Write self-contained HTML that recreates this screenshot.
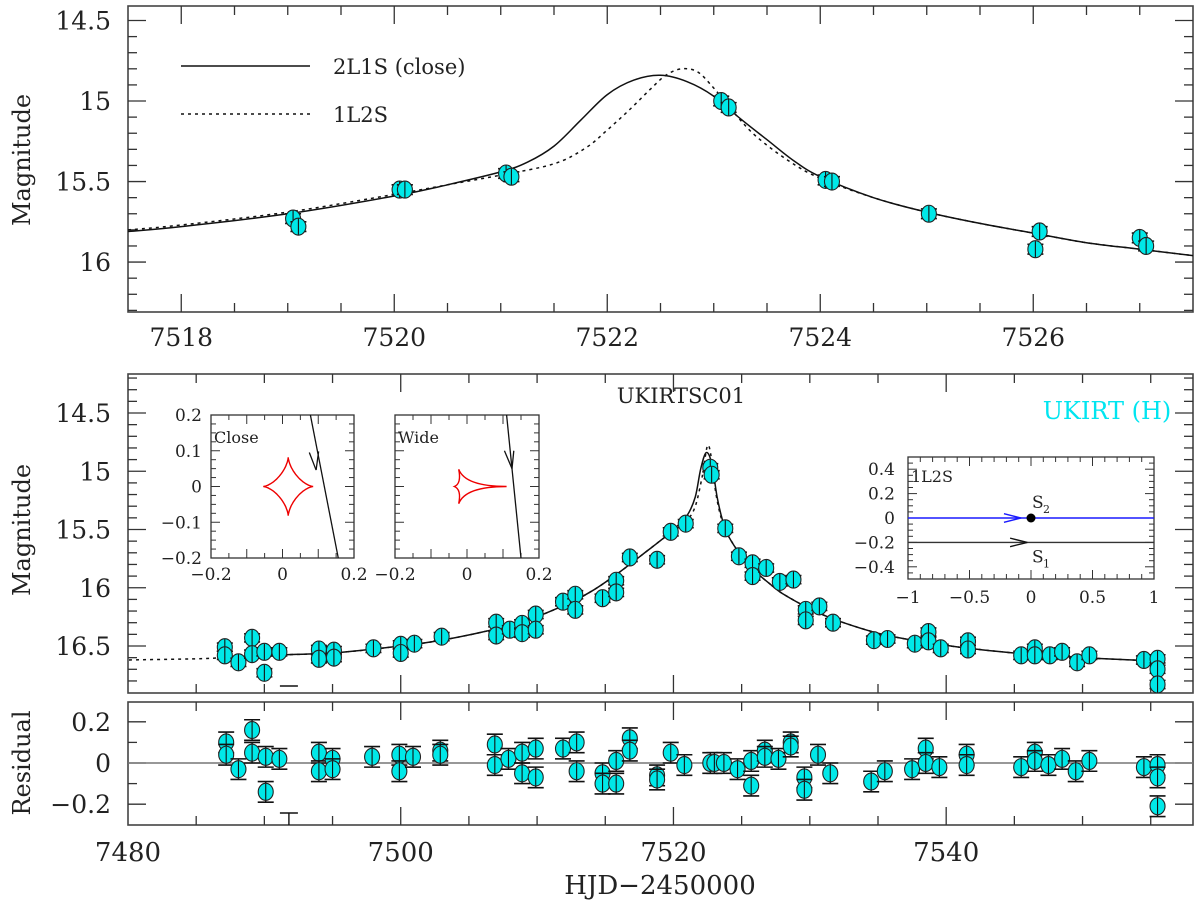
<!DOCTYPE html>
<html><head><meta charset="utf-8"><title>UKIRTSC01 light curve</title>
<style>
html,body{margin:0;padding:0;background:#fff;}
svg{display:block;font-family:"DejaVu Serif","Liberation Serif",serif;}
</style></head>
<body>
<svg id="fig" width="1200" height="903" viewBox="0 0 1200 903" xmlns="http://www.w3.org/2000/svg"></svg>
<script>
// ---------- DATA ----------
const topT = [7519.05,7519.10,7520.05,7520.10,7521.05,7521.10,7523.07,7523.14,7524.05,7524.11,7525.02,7526.02,7526.06,7527.00,7527.06];
const topM = [15.73,15.78,15.55,15.55,15.45,15.47,15.00,15.04,15.49,15.50,15.70,15.92,15.81,15.85,15.90];
const topErr = 0.03;
const solidTopT = [7517.5,7518,7519,7520,7520.5,7521,7521.25,7521.5,7521.75,7522.0,7522.25,7522.5,7522.75,7523.0,7523.25,7523.5,7523.75,7524,7524.5,7525,7525.5,7526,7526.5,7527,7527.5];
const solidTopM = [15.81,15.78,15.70,15.59,15.52,15.44,15.38,15.28,15.12,14.96,14.87,14.84,14.88,14.97,15.11,15.24,15.37,15.47,15.60,15.69,15.76,15.82,15.88,15.92,15.96];
const dotTopT = [7517.5,7518,7519,7520,7520.5,7521,7521.5,7521.8,7522.0,7522.2,7522.4,7522.55,7522.7,7522.85,7523.0,7523.2,7523.4,7523.7,7524,7524.5,7525,7525.5,7526,7526.5,7527,7527.5];
const dotTopM = [15.80,15.77,15.69,15.58,15.52,15.46,15.39,15.29,15.18,15.06,14.93,14.84,14.80,14.82,14.92,15.08,15.22,15.37,15.48,15.60,15.69,15.76,15.82,15.88,15.92,15.96];

const midT = [7487.1,7487.1,7488.1,7489.1,7489.1,7490.0,7490.0,7491.1,7494.0,7494.0,7495.1,7495.1,7498.0,7500.0,7500.0,7501.0,7503.0,7507.0,7507.0,7508.0,7508.9,7508.9,7509.9,7509.9,7511.9,7512.8,7512.8,7514.8,7515.8,7515.8,7516.8,7518.8,7519.8,7520.9,7522.7,7522.8,7523.8,7524.8,7525.8,7525.8,7526.8,7527.8,7528.8,7529.7,7529.7,7530.7,7531.7,7534.7,7535.7,7537.7,7538.7,7538.7,7539.6,7541.6,7541.6,7545.5,7546.5,7546.5,7547.6,7548.5,7549.6,7550.5,7554.5,7555.5,7555.5,7555.5];
const midM = [16.51,16.58,16.64,16.43,16.57,16.55,16.73,16.55,16.53,16.61,16.54,16.60,16.52,16.49,16.56,16.48,16.42,16.30,16.41,16.36,16.31,16.39,16.23,16.36,16.12,16.06,16.19,16.09,15.94,16.04,15.74,15.76,15.52,15.45,14.97,15.03,15.49,15.73,15.79,15.90,15.83,15.95,15.93,16.19,16.28,16.16,16.30,16.45,16.44,16.48,16.38,16.46,16.52,16.46,16.53,16.58,16.52,16.58,16.58,16.55,16.64,16.58,16.62,16.61,16.70,16.83];
const midErr = 0.035;
const solidMidT = [7487,7490,7495,7500,7503,7506,7509,7512,7514,7516,7518,7519,7520,7521,7521.6,7522.0,7522.4,7522.8,7523.2,7523.6,7524,7525,7526,7527,7528,7530,7532,7535,7538,7541,7545,7550,7555.6];
const solidMidM = [16.60,16.58,16.56,16.50,16.45,16.38,16.29,16.15,16.03,15.87,15.69,15.60,15.50,15.38,15.22,14.98,14.84,14.93,15.22,15.42,15.55,15.73,15.86,15.96,16.05,16.18,16.28,16.39,16.46,16.51,16.56,16.60,16.63];
const dotMidT = [7477,7480,7485,7487,7490,7495,7500,7503,7506,7509,7512,7514,7516,7518,7519,7520,7521,7521.6,7522.1,7522.5,7522.8,7523.1,7523.5,7524,7525,7526,7527,7528,7530,7532,7535,7538,7541,7545,7550,7555.6];
const dotMidM = [16.63,16.62,16.61,16.60,16.58,16.56,16.50,16.45,16.38,16.29,16.15,16.03,15.87,15.69,15.60,15.51,15.42,15.30,15.05,14.78,14.90,15.18,15.40,15.55,15.73,15.86,15.96,16.05,16.18,16.28,16.39,16.46,16.51,16.56,16.60,16.63];

const resT = [7487.2,7487.2,7488.1,7489.1,7489.1,7490.1,7490.1,7491.1,7494.0,7494.0,7495.0,7495.0,7497.9,7499.9,7499.9,7500.9,7502.9,7502.9,7506.9,7506.9,7507.9,7508.9,7508.9,7509.9,7509.9,7511.9,7512.9,7512.9,7514.8,7514.8,7515.8,7515.8,7516.8,7516.8,7518.8,7518.8,7519.8,7520.8,7522.7,7523.0,7523.7,7524.7,7525.7,7525.7,7526.7,7526.7,7527.7,7528.6,7528.6,7529.6,7529.6,7530.6,7531.5,7534.5,7535.5,7537.5,7538.5,7538.5,7539.5,7541.5,7541.5,7545.5,7546.5,7546.5,7547.5,7548.5,7549.5,7550.5,7554.5,7555.5,7555.5,7555.5];
const resR = [0.10,0.04,-0.03,0.16,0.05,0.03,-0.14,0.02,0.05,-0.04,0.02,-0.03,0.03,0.04,-0.04,0.03,0.06,0.04,0.09,-0.01,0.02,0.05,-0.05,0.07,-0.07,0.07,0.10,-0.04,-0.05,-0.10,0.01,-0.10,0.12,0.06,-0.06,-0.08,0.05,-0.01,0.00,0.00,0.00,-0.03,0.01,-0.11,0.06,0.03,0.02,0.10,0.08,-0.07,-0.13,0.04,-0.05,-0.09,-0.04,-0.03,0.07,0.00,-0.02,0.04,-0.01,-0.02,0.05,0.01,-0.01,0.02,-0.04,0.01,-0.02,-0.01,-0.07,-0.21];
const resErr = 0.05;

const topXTicks = [7518,7520,7522,7524,7526];
const topYTicks = [14.5,15,15.5,16];
const midYTicks = [14.5,15,15.5,16,16.5];
const resYTicks = [0.2,0,-0.2];
const botXTicks = [7480,7500,7520,7540];

// ---------- SVG helpers ----------
const svg = document.getElementById('fig');
const NS = 'http://www.w3.org/2000/svg';
function mk(tag, name, attrs, parent){
  const e = document.createElementNS(NS, tag);
  for (const k in attrs) e.setAttribute(k, attrs[k]);
  
  
  (parent || svg).appendChild(e);
  return e;
}
function txt(s, x, y, size, anchor, name, fill, parent){
  const t = mk('text', name, {x:x, y:y, 'font-size':size, 'text-anchor':anchor||'middle', fill:fill||'#222'}, parent);
  t.textContent = s;
  return t;
}
function ln(x1,y1,x2,y2,name,stroke,w,dash,parent){
  const a = {x1:x1,y1:y1,x2:x2,y2:y2,stroke:stroke||'#333','stroke-width':w||1.3};
  if (dash) a['stroke-dasharray'] = dash;
  return mk('line', name, a, parent);
}
function lin(d0,d1,p0,p1){ return v => p0 + (v-d0)*(p1-p0)/(d1-d0); }
function fmt(v){ return (v<0?'\u2212':'') + Math.abs(v).toString(); }

// ---------- panel geometry ----------
const L = 128, R = 1193;
const P = {
  top: {y0:6,  y1:312, x: lin(7517.5,7527.5,L,R), y: lin(14.41,16.31,6,312)},
  mid: {y0:374,y1:693, x: lin(7480,7558.1,L,R), y: lin(14.5,16.5,413,646)},
  res: {y0:702,y1:825, x: lin(7480,7558.1,L,R), y: lin(0.2,-0.2,721.8,804.2)}
};

function clip(id, y0, y1){
  const defs = svg.querySelector('defs') || mk('defs','defs',{});
  const c = mk('clipPath', id, {id:id}, defs);
  mk('rect', id+'-rect', {x:L, y:y0, width:R-L, height:y1-y0}, c);
}
clip('clipTop', P.top.y0, P.top.y1);
clip('clipMid', P.mid.y0, P.mid.y1);
clip('clipRes', P.res.y0, P.res.y1);

function frame(p, name){
  mk('rect', name, {x:L, y:p.y0, width:R-L, height:p.y1-p.y0, fill:'none', stroke:'#444', 'stroke-width':1.6});
}
function xTicks(p, a, b, minor, major, name){
  for (let v=a; v<=b+1e-9; v+=minor){
    const X = p.x(v); if (X<L+1||X>R-1) continue;
    const isMaj = Math.abs(v/major - Math.round(v/major))<1e-6;
    const len = isMaj?18:9;
    ln(X,p.y1,X,p.y1-len,name+'-bottom-tick','#333',1.3);
    ln(X,p.y0,X,p.y0+len,name+'-top-tick','#333',1.3);
  }
}
function yTicks(p, a, b, minor, major, name){
  for (let v=a; v<=b+1e-9; v+=minor){
    const Y = p.y(v); if (Y<p.y0+1||Y>p.y1-1) continue;
    const isMaj = Math.abs(v/major - Math.round(v/major))<1e-6;
    const len = isMaj?18:9;
    ln(L,Y,L+len,Y,name+'-left-tick','#333',1.3);
    ln(R,Y,R-len,Y,name+'-right-tick','#333',1.3);
  }
}
function curve(p, T, M, name, dash, clipId){
  const pts = T.map((t,i)=>[p.x(t), p.y(M[i])]);
  let d = 'M'+pts[0][0].toFixed(1)+','+pts[0][1].toFixed(1);
  for (let i=0;i<pts.length-1;i++){
    const p0=pts[Math.max(0,i-1)], p1=pts[i], p2=pts[i+1], p3=pts[Math.min(pts.length-1,i+2)];
    const c1=[p1[0]+(p2[0]-p0[0])/6, p1[1]+(p2[1]-p0[1])/6];
    const c2=[p2[0]-(p3[0]-p1[0])/6, p2[1]-(p3[1]-p1[1])/6];
    d += 'C'+c1[0].toFixed(1)+','+c1[1].toFixed(1)+' '+c2[0].toFixed(1)+','+c2[1].toFixed(1)+' '+p2[0].toFixed(1)+','+p2[1].toFixed(1);
  }
  const a = {d:d, fill:'none', stroke:'#111', 'stroke-width':1.5, 'clip-path':'url(#'+clipId+')', 'stroke-linejoin':'round'};
  if (dash) a['stroke-dasharray'] = dash;
  mk('path', name, a);
}
function points(p, T, V, err, name, clipId){
  const g = mk('g', name+'-group', {'clip-path':'url(#'+clipId+')'});
  T.forEach((t,i)=>{
    const X = p.x(t), Y = p.y(V[i]);
    const ya = p.y(V[i]-err), yb = p.y(V[i]+err);
    ln(X,ya,X,yb,name+'-errorbar','#111',1.4,null,g);
    ln(X-8,ya,X+8,ya,name+'-errorcap','#111',1.6,null,g);
    ln(X-8,yb,X+8,yb,name+'-errorcap','#111',1.6,null,g);
    mk('ellipse', name, {cx:X, cy:Y, rx:7.5, ry:8.5, fill:'#00e8e8', stroke:'#222', 'stroke-width':1.1}, g);
    ln(X,Y-8,X,Y+8,name+'-inner-bar','#111',1.1,null,g);
  });
}

// ---------- TOP PANEL ----------
frame(P.top,'top-panel-frame');
xTicks(P.top,7517.5,7527.5,0.5,2,'top-x');
yTicks(P.top,14.5,16.3,0.1,0.5,'top-y');
topXTicks.forEach(v=>txt(String(v), P.top.x(v), 346, 25, 'middle', 'top-x-tick-label'));
topYTicks.forEach(v=>txt(String(v), 111, P.top.y(v)+9, 25, 'end', 'top-y-tick-label'));
curve(P.top, dotTopT, dotTopM, 'top-1l2s-model-curve', '3,4', 'clipTop');
curve(P.top, solidTopT, solidTopM, 'top-2l1s-model-curve', null, 'clipTop');
points(P.top, topT, topM, topErr, 'top-data-point', 'clipTop');
ln(181,66,310,66,'legend-solid-line','#111',1.5);
txt('2L1S (close)', 333, 74, 21, 'start', 'legend-2l1s-label');
ln(181,114,310,114,'legend-dotted-line','#111',1.5,'3,4');
txt('1L2S', 333, 122, 21, 'start', 'legend-1l2s-label');
const yl1 = txt('Magnitude', 0, 0, 24, 'middle', 'top-y-axis-title');
yl1.setAttribute('transform','translate(30,160) rotate(-90)');

// ---------- MIDDLE PANEL ----------
frame(P.mid,'middle-panel-frame');
xTicks(P.mid,7480,7558,5,20,'mid-x');
yTicks(P.mid,14.2,16.9,0.1,0.5,'mid-y');
midYTicks.forEach(v=>txt(String(v), 111, P.mid.y(v)+9, 25, 'end', 'mid-y-tick-label'));
curve(P.mid, dotMidT, dotMidM, 'mid-1l2s-model-curve', '3,4', 'clipMid');
curve(P.mid, solidMidT, solidMidM, 'mid-2l1s-model-curve', null, 'clipMid');
points(P.mid, midT, midM, midErr, 'mid-data-point', 'clipMid');
ln(P.mid.x(7491.8)-9,686,P.mid.x(7491.8)+9,686,'mid-offscale-errorcap','#111',1.6);
txt('UKIRTSC01', 681, 403, 21, 'middle', 'event-name-label');
txt('UKIRT (H)', 1107, 419, 24, 'middle', 'ukirt-h-band-label', '#00e5f0');
const yl2 = txt('Magnitude', 0, 0, 24, 'middle', 'mid-y-axis-title');
yl2.setAttribute('transform','translate(30,530) rotate(-90)');

// ---------- RESIDUAL PANEL ----------
frame(P.res,'residual-panel-frame');
xTicks(P.res,7480,7558,5,20,'res-x');
yTicks(P.res,-0.3,0.3,0.1,0.2,'res-y');
ln(L,P.res.y(0),R,P.res.y(0),'residual-zero-line','#777',1.4);
resYTicks.forEach(v=>txt(fmt(v), 111, P.res.y(v)+9, 25, 'end', 'res-y-tick-label'));
points(P.res, resT, resR, resErr, 'residual-point', 'clipRes');
ln(P.res.x(7491.8)-9,813,P.res.x(7491.8)+9,813,'res-offscale-errorcap','#111',1.6);
ln(P.res.x(7491.8),813,P.res.x(7491.8),825,'res-offscale-errorbar','#111',1.4);
botXTicks.forEach(v=>txt(String(v), P.res.x(v), 861, 26, 'middle', 'bottom-x-tick-label'));
txt('HJD\u22122450000', 660, 894, 26, 'middle', 'x-axis-title');
const yl3 = txt('Residual', 0, 0, 24, 'middle', 'res-y-axis-title');
yl3.setAttribute('transform','translate(30,763) rotate(-90)');

// ---------- INSETS (caustics) ----------
function inset(x0,x1,y0,y1,xa,xb,ya,yb,name,xMinor,xMajor,yMinor,yMajor){
  const I = {x:lin(xa,xb,x0,x1), y:lin(ya,yb,y1,y0), x0:x0,x1:x1,y0:y0,y1:y1};
  mk('rect', name+'-frame', {x:x0,y:y0,width:x1-x0,height:y1-y0,fill:'#fff',stroke:'#333','stroke-width':1.3});
  for (let v=xa; v<=xb+1e-9; v+=xMinor){
    const X=I.x(v); if (X<=x0+1||X>=x1-1) continue;
    const maj=Math.abs(v/xMajor-Math.round(v/xMajor))<1e-6, len=maj?9:5;
    ln(X,y1,X,y1-len,name+'-x-tick','#333',1); ln(X,y0,X,y0+len,name+'-x-tick','#333',1);
  }
  for (let v=ya; v<=yb+1e-9; v+=yMinor){
    const Y=I.y(v); if (Y<=y0+1||Y>=y1-1) continue;
    const maj=Math.abs(v/yMajor-Math.round(v/yMajor))<1e-6, len=maj?9:5;
    ln(x0,Y,x0+len,Y,name+'-y-tick','#333',1); ln(x1,Y,x1-len,Y,name+'-y-tick','#333',1);
  }
  return I;
}
// Close
const C = inset(211,354,415,558,-0.2,0.2,-0.2,0.2,'close-inset',0.05,0.1,0.025,0.1);
[0.2,0.1,0,-0.1,-0.2].forEach(v=>txt(fmt(v), 202, C.y(v)+6, 17, 'end', 'close-inset-y-label'));
[-0.2,0,0.2].forEach(v=>txt(fmt(v), C.x(v), 580, 17, 'middle', 'close-inset-x-label'));
txt('Close', 214, 443, 16, 'start', 'close-inset-title');
(function(){
  let d='';
  for (let i=0;i<=120;i++){
    const a=i/120*2*Math.PI, c=Math.cos(a), s=Math.sin(a);
    d += (i?'L':'M') + C.x(0.016+0.07*c*c*c).toFixed(1)+','+C.y(0.082*s*s*s).toFixed(1);
  }
  mk('path','close-caustic',{d:d,fill:'none',stroke:'#e00','stroke-width':1.4});
})();
ln(C.x(0.078),C.y(0.2),C.x(0.156),C.y(-0.2),'close-source-trajectory','#111',1.3);
ln(C.x(0.094),C.y(0.046),C.x(0.075),C.y(0.095),'close-arrow-head','#111',1.3);
ln(C.x(0.094),C.y(0.046),C.x(0.101),C.y(0.098),'close-arrow-head','#111',1.3);
// Wide
const W = inset(395,539,415,558,-0.2,0.2,-0.2,0.2,'wide-inset',0.05,0.1,0.025,0.1);
[-0.2,0,0.2].forEach(v=>txt(fmt(v), W.x(v), 580, 17, 'middle', 'wide-inset-x-label'));
txt('Wide', 398, 443, 16, 'start', 'wide-inset-title');
(function(){
  const p=(x,y)=>W.x(x).toFixed(1)+','+W.y(y).toFixed(1);
  const d='M'+p(0.11,0)+'Q'+p(-0.005,0.0)+' '+p(-0.023,0.048)+'Q'+p(-0.015,0.008)+' '+p(-0.035,0)+'Q'+p(-0.015,-0.008)+' '+p(-0.023,-0.048)+'Q'+p(-0.005,0.0)+' '+p(0.11,0)+'Z';
  mk('path','wide-caustic',{d:d,fill:'none',stroke:'#e00','stroke-width':1.4});
})();
ln(W.x(0.11),W.y(0.2),W.x(0.15),W.y(-0.2),'wide-source-trajectory','#111',1.3);
ln(W.x(0.125),W.y(0.05),W.x(0.104),W.y(0.1),'wide-arrow-head','#111',1.3);
ln(W.x(0.125),W.y(0.05),W.x(0.13),W.y(0.1),'wide-arrow-head','#111',1.3);
// 1L2S
const S = inset(908,1154,457,579,-1,1,-0.5,0.5,'1l2s-inset',0.1,0.5,0.05,0.2);
[0.4,0.2,0,-0.2,-0.4].forEach(v=>txt(fmt(v), 895, S.y(v)+6, 17, 'end', '1l2s-inset-y-label'));
[-1,-0.5,0,0.5,1].forEach(v=>txt(fmt(v), S.x(v), 603, 17, 'middle', '1l2s-inset-x-label'));
txt('1L2S', 911, 482, 16, 'start', '1l2s-inset-title');
ln(S.x(-1),S.y(0),S.x(1),S.y(0),'source2-trajectory','#1a1aff',1.6);
ln(S.x(-1),S.y(-0.2),S.x(1),S.y(-0.2),'source1-trajectory','#333',1.4);
ln(S.x(-0.08),S.y(0),S.x(-0.22),S.y(0.035),'source2-arrow-head','#1a1aff',1.4);
ln(S.x(-0.08),S.y(0),S.x(-0.22),S.y(-0.035),'source2-arrow-head','#1a1aff',1.4);
ln(S.x(-0.03),S.y(-0.2),S.x(-0.17),S.y(-0.165),'source1-arrow-head','#111',1.4);
ln(S.x(-0.03),S.y(-0.2),S.x(-0.17),S.y(-0.235),'source1-arrow-head','#111',1.4);
mk('circle','source2-position',{cx:S.x(0),cy:S.y(0),r:4.5,fill:'#000'});
txt('S', S.x(0)+1, S.y(0)-10, 17, 'start', 'source2-label');
txt('2', S.x(0)+12, S.y(0)-5, 11, 'start', 'source2-label-subscript');
txt('S', S.x(0)+1, S.y(-0.2)+20, 17, 'start', 'source1-label');
txt('1', S.x(0)+12, S.y(-0.2)+25, 11, 'start', 'source1-label-subscript');
</script>
</body></html>
